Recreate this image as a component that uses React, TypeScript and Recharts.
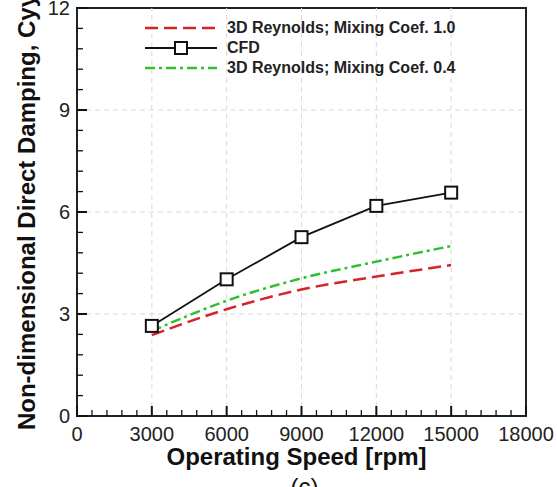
import React from 'react';
import { LineChart, Line, XAxis, YAxis, ReferenceLine, ReferenceArea, Label } from 'recharts';

const speeds = [3000, 6000, 9000, 12000, 15000];
const reynolds10 = [2.38, 3.14, 3.72, 4.1, 4.44];
const cfdValues = [2.65, 4.02, 5.26, 6.18, 6.57];
const reynolds04 = [2.5, 3.39, 4.05, 4.54, 5.0];

const seriesNames = ['3D Reynolds; Mixing Coef. 1.0', 'CFD', '3D Reynolds; Mixing Coef. 0.4'];
const xMajorTicks = [0, 3000, 6000, 9000, 12000, 15000, 18000];
const yMajorTicks = [0, 3, 6, 9, 12];
const xGridTicks = [3000, 6000, 9000, 12000, 15000];
const yGridTicks = [3, 6, 9];
const xTitle = 'Operating Speed [rpm]';
const yTitle = 'Non-dimensional Direct Damping, Cyy';
const subTitle = '(c)';

const RED = '#d4242b';
const GREEN = '#2fbf2f';
const BLACK = '#111';
const FONT = '"Liberation Sans", Arial, sans-serif';

function withMinors(majors: number[], parts: number): number[] {
  const out: number[] = [];
  for (let i = 0; i < majors.length - 1; i++) {
    const a = majors[i];
    const b = majors[i + 1];
    for (let k = 0; k < parts; k++) out.push(Math.round((a + ((b - a) * k) / parts) * 1000) / 1000);
  }
  out.push(majors[majors.length - 1]);
  return out;
}

const xTicks = withMinors(xMajorTicks, 5);
const yTicks = withMinors(yMajorTicks, 5);

const data = speeds.map((s, i) => ({
  speed: s,
  r10: reynolds10[i],
  cfd: cfdValues[i],
  r04: reynolds04[i],
}));

const isMajor = (v: number, majors: number[]) => majors.some((m) => Math.abs(m - v) < 1e-6);

const XTick = (props: any) => {
  const { x, y, payload } = props;
  const major = isMajor(payload.value, xMajorTicks);
  return (
    <g>
      <line x1={x} y1={y} x2={x} y2={y - (major ? 10 : 6)} stroke={BLACK} strokeWidth={major ? 2 : 1.3} />
      {major && (
        <text x={x} y={y + 25} textAnchor="middle" fontSize={20} fontFamily={FONT} fill="#222">
          {payload.value}
        </text>
      )}
    </g>
  );
};

const YTick = (props: any) => {
  const { x, y, payload } = props;
  const major = isMajor(payload.value, yMajorTicks);
  return (
    <g>
      <line x1={x} y1={y} x2={x + (major ? 10 : 6)} y2={y} stroke={BLACK} strokeWidth={major ? 2 : 1.3} />
      {major && (
        <text x={x - 7} y={y + 7} textAnchor="end" fontSize={20} fontFamily={FONT} fill="#222">
          {payload.value}
        </text>
      )}
    </g>
  );
};

const SquareDot = (props: any) => {
  const { cx, cy, index } = props;
  return <rect key={`sq-${index}`} x={cx - 6} y={cy - 6} width={12} height={12} fill="#fff" stroke={BLACK} strokeWidth={2} />;
};

const LegendBox = () => (
  <div
    style={{
      position: 'absolute',
      left: 145,
      top: 18,
      fontFamily: FONT,
      fontWeight: 'bold',
      fontSize: 16,
      color: '#222',
      pointerEvents: 'none',
    }}
  >
    {seriesNames.map((name, i) => (
      <div key={name} style={{ display: 'flex', alignItems: 'center', height: 20 }}>
        <svg width={72} height={20} style={{ display: 'block' }}>
          {i === 0 && <line x1={0} y1={10} x2={72} y2={10} stroke={RED} strokeWidth={2.5} strokeDasharray="13 6" />}
          {i === 1 && (
            <g>
              <line x1={0} y1={10} x2={72} y2={10} stroke={BLACK} strokeWidth={2} />
              <rect x={30} y={4} width={12} height={12} fill="#fff" stroke={BLACK} strokeWidth={2} />
            </g>
          )}
          {i === 2 && <line x1={0} y1={10} x2={72} y2={10} stroke={GREEN} strokeWidth={2.5} strokeDasharray="10 4 3 4" />}
        </svg>
        <span style={{ marginLeft: 10, lineHeight: '20px', whiteSpace: 'nowrap' }}>{name}</span>
      </div>
    ))}
  </div>
);

const XTitle = (props: any) => {
  const vb = props.viewBox || { x: 77, y: 416, width: 449, height: 71 };
  const cx = vb.x + vb.width / 2 - 5;
  return (
    <g>
      <text x={cx} y={vb.y + 49} textAnchor="middle" fontSize={24} fontWeight="bold" fontFamily={FONT} fill="#111">
        {xTitle}
      </text>
      <text x={cx + 8} y={vb.y + 79} textAnchor="middle" fontSize={24} fontFamily={FONT} fill="#111">
        {subTitle}
      </text>
    </g>
  );
};

const YTitle = (props: any) => {
  const vb = props.viewBox || { x: 0, y: 8, width: 77, height: 408 };
  const cx = vb.x + 35;
  const cy = vb.y + vb.height / 2;
  return (
    <text
      x={cx}
      y={cy}
      transform={`rotate(-90, ${cx}, ${cy})`}
      textAnchor="middle"
      fontSize={24}
      fontWeight="bold"
      fontFamily={FONT}
      fill="#111"
    >
      {yTitle}
    </text>
  );
};

export default function App() {
  return (
    <div style={{ position: 'absolute', left: 0, top: 0, width: 557, height: 487, background: '#fff', fontFamily: FONT }}>
      <LineChart width={557} height={487} data={data} margin={{ top: 8, right: 31, bottom: 0, left: 0 }}>
        <XAxis
          dataKey="speed"
          type="number"
          domain={[0, 18000]}
          ticks={xTicks}
          interval={0}
          tick={<XTick />}
          tickLine={false}
          axisLine={false}
          tickSize={0}
          tickMargin={0}
          height={71}
          allowDataOverflow
        >
          <Label content={<XTitle />} />
        </XAxis>
        <YAxis
          type="number"
          domain={[0, 12]}
          ticks={yTicks}
          interval={0}
          tick={<YTick />}
          tickLine={false}
          axisLine={false}
          tickSize={0}
          tickMargin={0}
          width={77}
          allowDataOverflow
        >
          <Label content={<YTitle />} />
        </YAxis>
        {xGridTicks.map((v) => (
          <ReferenceLine key={`gx${v}`} x={v} stroke="#d9d9d9" strokeDasharray="5 4" strokeWidth={1} />
        ))}
        {yGridTicks.map((v) => (
          <ReferenceLine key={`gy${v}`} y={v} stroke="#d9d9d9" strokeDasharray="5 4" strokeWidth={1} />
        ))}
        <ReferenceArea x1={0} x2={18000} y1={0} y2={12} fill="none" fillOpacity={0} stroke="#222" strokeWidth={2} />
        <Line
          type="monotone"
          dataKey="r10"
          stroke={RED}
          strokeWidth={2.5}
          strokeDasharray="13 6"
          dot={false}
          activeDot={false}
          isAnimationActive={false}
        />
        <Line
          type="monotone"
          dataKey="r04"
          stroke={GREEN}
          strokeWidth={2.5}
          strokeDasharray="10 4 3 4"
          dot={false}
          activeDot={false}
          isAnimationActive={false}
        />
        <Line
          type="linear"
          dataKey="cfd"
          stroke={BLACK}
          strokeWidth={1.8}
          dot={<SquareDot />}
          activeDot={false}
          isAnimationActive={false}
        />
      </LineChart>
      <LegendBox />
    </div>
  );
}
